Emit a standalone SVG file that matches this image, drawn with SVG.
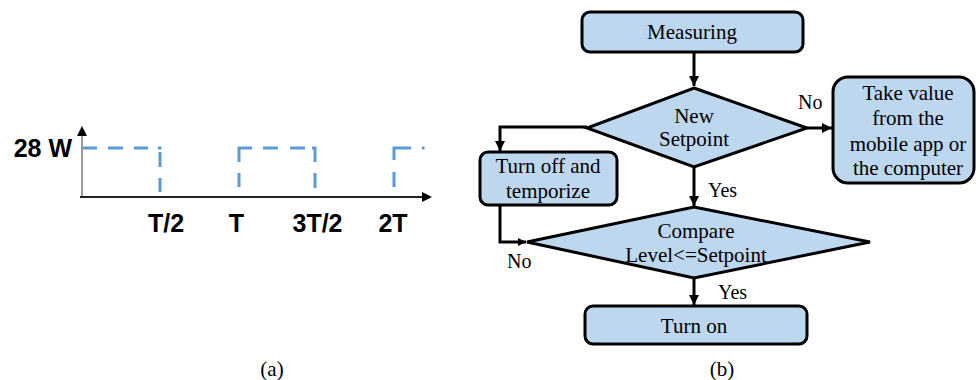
<svg xmlns="http://www.w3.org/2000/svg" width="976" height="380" viewBox="0 0 976 380">
<style>
.lbl{font-family:"Liberation Sans",Arial,sans-serif;font-weight:bold;font-size:25px;fill:#000}
.t{font-family:"Liberation Serif","Times New Roman",serif;font-size:21px;fill:#000;text-anchor:middle}
.tl{font-family:"Liberation Serif","Times New Roman",serif;font-size:20px;fill:#000}
.box{fill:#BDD7EE;stroke:#000;stroke-width:3}
.con{fill:none;stroke:#000;stroke-width:3}
.dash{fill:none;stroke:#5B9BD5;stroke-width:3}
</style>
<defs>
<marker id="ah" markerUnits="userSpaceOnUse" markerWidth="12" markerHeight="12" refX="10" refY="5" orient="auto">
<path d="M0,0 L10,5 L0,10 z" fill="#000"/>
</marker>
<marker id="ahs" markerUnits="userSpaceOnUse" markerWidth="10" markerHeight="10" refX="8" refY="4" orient="auto">
<path d="M0,0 L8,4 L0,8 z" fill="#000"/>
</marker>
</defs>

<g id="chart">
<line x1="82" y1="197" x2="82" y2="134" stroke="#999" stroke-width="2"/>
<path d="M77,136 L82,126 L87,136 z" fill="#000"/>
<line x1="80" y1="197" x2="424" y2="197" stroke="#222" stroke-width="2"/>
<path d="M422,192 L432,197 L422,202 z" fill="#000"/>
<path class="dash" d="M83,148H97M108,148H123M134,148H148M158,148H161.5M160,152V167M160,178V192"/>
<path class="dash" d="M239,149.5V162M239,173V187M237.5,148H252M263,148H278M290,148H305M312,148H316.5M315,149.5V162M315,173V188"/>
<path class="dash" d="M394,149.5V160M394,172V187M392.5,148H411M422,148H424.5"/>
<text class="lbl" x="72" y="157" text-anchor="end">28 W</text>
<text class="lbl" x="166" y="232" text-anchor="middle">T/2</text>
<text class="lbl" x="236.5" y="232" text-anchor="middle">T</text>
<text class="lbl" x="317.5" y="232" text-anchor="middle">3T/2</text>
<text class="lbl" x="393" y="232" text-anchor="middle">2T</text>
</g>

<g id="connectors">
<line class="con" x1="694" y1="52" x2="694" y2="86" marker-end="url(#ah)"/>
<line class="con" x1="807" y1="128" x2="832" y2="128" marker-end="url(#ah)"/>
<polyline class="con" points="587,127 500,127 500,151" marker-end="url(#ah)"/>
<line class="con" x1="694" y1="167" x2="694" y2="206" marker-end="url(#ah)"/>
<polyline class="con" points="500,205 500,242 526,242" marker-end="url(#ahs)"/>
<line class="con" x1="694" y1="278" x2="694" y2="305" marker-end="url(#ah)"/>
</g>

<g id="measuring">
<rect class="box" x="582" y="12" width="221" height="40" rx="8"/>
<text class="t" x="692" y="39">Measuring</text>
</g>
<g id="new-setpoint">
<polygon class="box" points="694,88 807,128 694,167 587,128"/>
<text class="t" x="694" y="123">New</text>
<text class="t" x="694" y="146">Setpoint</text>
</g>
<g id="take-value">
<rect class="box" x="833" y="77" width="141" height="106" rx="15"/>
<text class="t" x="908" y="100">Take value</text>
<text class="t" x="908" y="125">from the</text>
<text class="t" x="908" y="151">mobile app or</text>
<text class="t" x="908" y="175">the computer</text>
</g>
<g id="turn-off">
<rect class="box" x="480" y="152" width="137" height="53" rx="8"/>
<text class="t" x="548" y="173">Turn off and</text>
<text class="t" x="548" y="198">temporize</text>
</g>
<g id="compare">
<polygon class="box" points="694,207 870,242 694,278 527,242"/>
<text class="t" x="696" y="238">Compare</text>
<text class="t" x="696" y="262">Level&lt;=Setpoint</text>
</g>
<g id="turn-on">
<rect class="box" x="585" y="306" width="222" height="38" rx="8"/>
<text class="t" x="694" y="333">Turn on</text>
</g>

<g id="edge-labels">
<text class="tl" x="798" y="109">No</text>
<text class="tl" x="708" y="197">Yes</text>
<text class="tl" x="507" y="268">No</text>
<text class="tl" x="718" y="299">Yes</text>
</g>

<g id="captions">
<text class="t" x="272" y="376">(a)</text>
<text class="t" x="722" y="376">(b)</text>
</g>
</svg>
